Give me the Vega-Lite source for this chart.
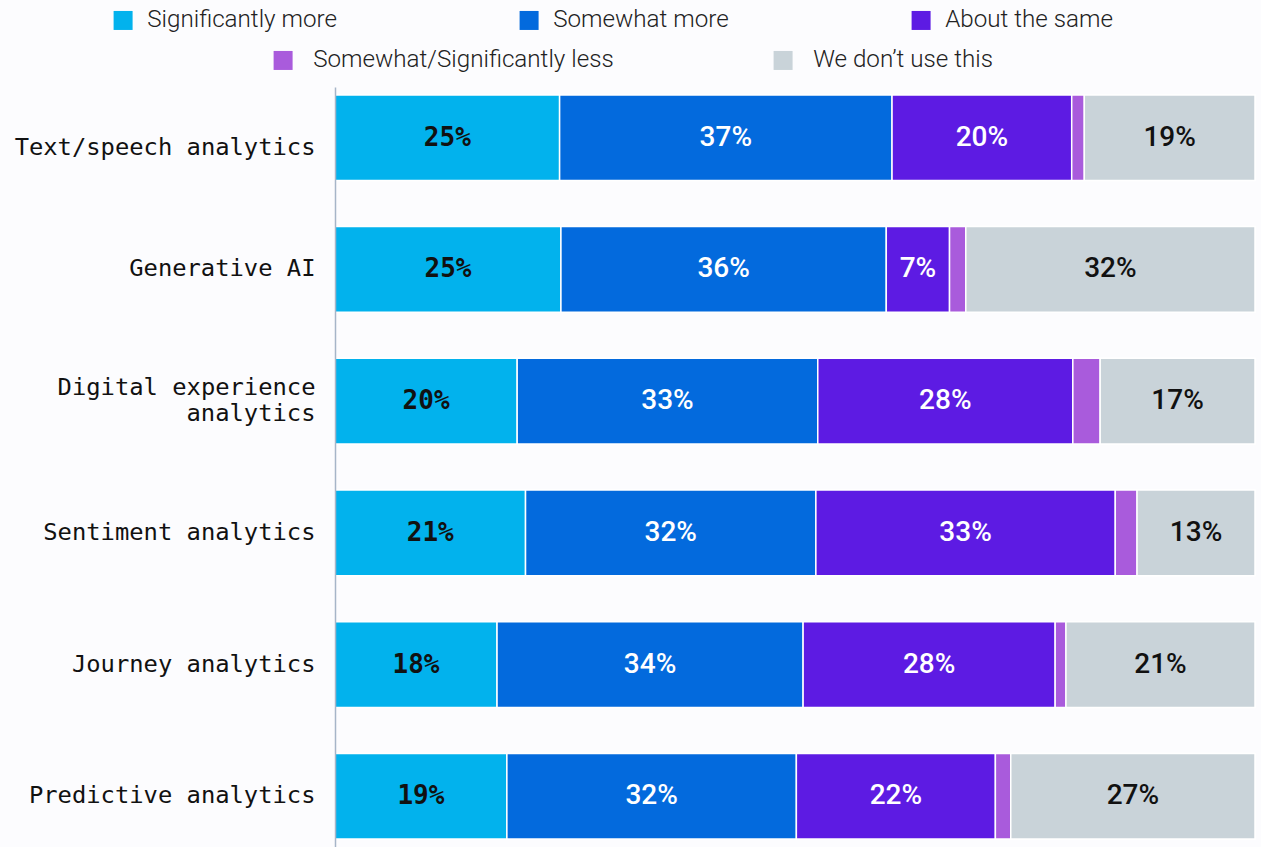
{
  "$schema": "https://vega.github.io/schema/vega-lite/v6.json",
  "width": 920,
  "height": 760,
  "autosize": {"type": "none"},
  "padding": {"left": 335, "top": 87, "right": 6, "bottom": 0},
  "background": "#fcfcfe",
  "config": {"view": {"stroke": null}},
  "data": {
    "values": [
      {"category": "Text/speech analytics", "response": "Significantly more", "order": 1, "value": 0.25},
      {"category": "Text/speech analytics", "response": "Somewhat more", "order": 2, "value": 0.37},
      {"category": "Text/speech analytics", "response": "About the same", "order": 3, "value": 0.20},
      {"category": "Text/speech analytics", "response": "Somewhat/Significantly less", "order": 4, "value": 0.014},
      {"category": "Text/speech analytics", "response": "We don’t use this", "order": 5, "value": 0.19},
      {"category": "Generative AI", "response": "Significantly more", "order": 1, "value": 0.25},
      {"category": "Generative AI", "response": "Somewhat more", "order": 2, "value": 0.36},
      {"category": "Generative AI", "response": "About the same", "order": 3, "value": 0.07},
      {"category": "Generative AI", "response": "Somewhat/Significantly less", "order": 4, "value": 0.018},
      {"category": "Generative AI", "response": "We don’t use this", "order": 5, "value": 0.32},
      {"category": "Digital experience analytics", "response": "Significantly more", "order": 1, "value": 0.20},
      {"category": "Digital experience analytics", "response": "Somewhat more", "order": 2, "value": 0.33},
      {"category": "Digital experience analytics", "response": "About the same", "order": 3, "value": 0.28},
      {"category": "Digital experience analytics", "response": "Somewhat/Significantly less", "order": 4, "value": 0.03},
      {"category": "Digital experience analytics", "response": "We don’t use this", "order": 5, "value": 0.17},
      {"category": "Sentiment analytics", "response": "Significantly more", "order": 1, "value": 0.21},
      {"category": "Sentiment analytics", "response": "Somewhat more", "order": 2, "value": 0.32},
      {"category": "Sentiment analytics", "response": "About the same", "order": 3, "value": 0.33},
      {"category": "Sentiment analytics", "response": "Somewhat/Significantly less", "order": 4, "value": 0.024},
      {"category": "Sentiment analytics", "response": "We don’t use this", "order": 5, "value": 0.13},
      {"category": "Journey analytics", "response": "Significantly more", "order": 1, "value": 0.18},
      {"category": "Journey analytics", "response": "Somewhat more", "order": 2, "value": 0.34},
      {"category": "Journey analytics", "response": "About the same", "order": 3, "value": 0.28},
      {"category": "Journey analytics", "response": "Somewhat/Significantly less", "order": 4, "value": 0.012},
      {"category": "Journey analytics", "response": "We don’t use this", "order": 5, "value": 0.21},
      {"category": "Predictive analytics", "response": "Significantly more", "order": 1, "value": 0.19},
      {"category": "Predictive analytics", "response": "Somewhat more", "order": 2, "value": 0.32},
      {"category": "Predictive analytics", "response": "About the same", "order": 3, "value": 0.22},
      {"category": "Predictive analytics", "response": "Somewhat/Significantly less", "order": 4, "value": 0.017},
      {"category": "Predictive analytics", "response": "We don’t use this", "order": 5, "value": 0.27}
    ]
  },
  "encoding": {
    "y": {
      "field": "category",
      "type": "nominal",
      "sort": null,
      "scale": {"paddingInner": 0.35, "paddingOuter": 0.06},
      "axis": {
        "title": null,
        "ticks": false,
        "zindex": 1,
        "domainColor": "#a6b5c8",
        "domainWidth": 1.5,
        "labelFont": "DejaVu Sans Mono",
        "labelFontSize": 23.8,
        "labelColor": "#111111",
        "labelPadding": 20,
        "labelLimit": 400,
        "labelLineHeight": 26,
        "labelOffset": {
          "condition": [
            {"test": "datum.value == 'Digital experience analytics'", "value": -13},
            {"test": "datum.value == 'Text/speech analytics'", "value": 10}
          ],
          "value": 0
        },
        "labelExpr": "datum.value == 'Digital experience analytics' ? ['Digital experience', 'analytics'] : datum.value"
      }
    }
  },
  "layer": [
    {
      "transform": [
        {"stack": "value", "groupby": ["category"], "sort": [{"field": "order"}], "offset": "normalize", "as": ["x0", "x1"]},
        {"filter": "datum.order <= 3"}
      ],
      "mark": {"type": "bar", "stroke": "white", "strokeWidth": 1.5},
      "encoding": {
        "x": {"field": "x0", "type": "quantitative", "scale": {"domain": [0, 1]}, "axis": null},
        "x2": {"field": "x1"},
        "color": {
          "field": "response",
          "type": "nominal",
          "scale": {"domain": ["Significantly more", "Somewhat more", "About the same"], "range": ["#02b2ed", "#036add", "#5d1be3"]},
          "legend": {
            "orient": "none", "legendX": -224, "legendY": -79, "direction": "horizontal", "columns": 3,
            "columnPadding": 180, "title": null, "symbolType": "square", "symbolSize": 361, "symbolStrokeWidth": 0,
            "labelFont": "Roboto", "labelFontSize": 24.2, "labelFontWeight": 300, "labelColor": "#222222",
            "labelOffset": 12, "labelLimit": 500, "padding": 0
          }
        }
      }
    },
    {
      "transform": [
        {"stack": "value", "groupby": ["category"], "sort": [{"field": "order"}], "offset": "normalize", "as": ["x0", "x1"]},
        {"filter": "datum.order >= 4"}
      ],
      "mark": {"type": "bar", "stroke": "white", "strokeWidth": 1.5},
      "encoding": {
        "x": {"field": "x0", "type": "quantitative", "scale": {"domain": [0, 1]}, "axis": null},
        "x2": {"field": "x1"},
        "color": {
          "field": "response",
          "type": "nominal",
          "scale": {"domain": ["Somewhat/Significantly less", "We don’t use this"], "range": ["#a95bdc", "#c9d3d9"]},
          "legend": {
            "orient": "none", "legendX": -64, "legendY": -39, "direction": "horizontal", "columns": 2,
            "columnPadding": 157, "title": null, "symbolType": "square", "symbolSize": 361, "symbolStrokeWidth": 0,
            "labelFont": "Roboto", "labelFontSize": 24.2, "labelFontWeight": 300, "labelColor": "#222222",
            "labelOffset": 18, "labelLimit": 500, "padding": 0
          }
        }
      }
    },
    {
      "mark": {"type": "text", "font": "DejaVu Sans Mono", "fontSize": 26, "fontWeight": "bold", "color": "#111111", "baseline": "middle"},
      "encoding": {
        "x": {"field": "value", "type": "quantitative", "stack": "normalize", "bandPosition": 0.5, "scale": {"domain": [0, 1]}, "axis": null},
        "detail": {"field": "response"},
        "order": {"field": "order"},
        "text": {"condition": {"test": "datum.order == 1", "field": "value", "type": "quantitative", "format": ".0%"}, "value": ""}
      }
    },
    {
      "mark": {"type": "text", "font": "Roboto", "fontSize": 28, "fontWeight": 500, "color": "white", "baseline": "middle"},
      "encoding": {
        "x": {"field": "value", "type": "quantitative", "stack": "normalize", "bandPosition": 0.5, "scale": {"domain": [0, 1]}, "axis": null},
        "detail": {"field": "response"},
        "order": {"field": "order"},
        "text": {"condition": {"test": "datum.order == 2 || datum.order == 3", "field": "value", "type": "quantitative", "format": ".0%"}, "value": ""}
      }
    },
    {
      "mark": {"type": "text", "font": "Roboto", "fontSize": 28, "fontWeight": 500, "color": "#111111", "baseline": "middle"},
      "encoding": {
        "x": {"field": "value", "type": "quantitative", "stack": "normalize", "bandPosition": 0.5, "scale": {"domain": [0, 1]}, "axis": null},
        "detail": {"field": "response"},
        "order": {"field": "order"},
        "text": {"condition": {"test": "datum.order == 5", "field": "value", "type": "quantitative", "format": ".0%"}, "value": ""}
      }
    }
  ],
  "resolve": {"scale": {"color": "independent"}}
}
